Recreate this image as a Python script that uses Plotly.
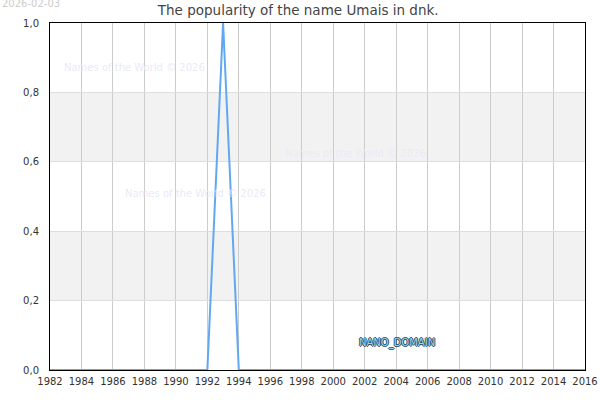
import plotly.graph_objects as go

# popularity of the name per year (only 1993 has a value)
years = list(range(1982, 2017))
popularity = [0.0] * len(years)
popularity[years.index(1993)] = 1.0

x_ticks = list(range(1982, 2017, 2))
y_ticks = [0.0, 0.2, 0.4, 0.6, 0.8, 1.0]
bands = [(0.2, 0.4), (0.6, 0.8)]  # shaded stripes

watermark = "Names of the World © 2026"
watermark_spots = [(1987.37, 0.873), (2001.41, 0.6225), (1991.26, 0.509)]

fig = go.Figure()

fig.add_trace(go.Scatter(
    x=years,
    y=popularity,
    mode="lines",
    line=dict(color="#62a8f0", width=2),
    hoverinfo="skip",
))

# grey bands behind the grid
for lo, hi in bands:
    fig.add_shape(type="rect", xref="paper", yref="y", x0=0, x1=1, y0=lo, y1=hi,
                  fillcolor="#f2f2f2", line_width=0, layer="below")

for wx, wy in watermark_spots:
    fig.add_annotation(x=wx, y=wy, text=watermark, showarrow=False,
                       font=dict(size=10, color="#eaeaf8"))

outline = "-1px 0 #24506a, 1px 0 #24506a, 0 -1px #24506a, 0 1px #24506a"
fig.add_annotation(x=2004.05, y=0.078, text="NANO_DOMAIN", showarrow=False,
                   font=dict(size=10, color="#a9d3ea", shadow=outline))

fig.add_annotation(xref="paper", yref="paper", x=-50 / 535, y=366 / 347,
                   xanchor="left", yanchor="middle",
                   text="2026-02-03", showarrow=False,
                   font=dict(size=10, color="#cccccc"))

fig.update_layout(
    title=dict(text="The popularity of the name Umais in dnk.", x=0.497, y=0.975,
               xanchor="center", yanchor="middle",
               font=dict(size=13.5, color="#444444")),
    width=600,
    height=400,
    margin=dict(l=50, r=15, t=23, b=30, autoexpand=False),
    paper_bgcolor="white",
    plot_bgcolor="white",
    showlegend=False,
    separators=",.",
    font=dict(family="DejaVu Sans", size=10, color="#333333"),
    xaxis=dict(
        range=[1982, 2016],
        tickvals=x_ticks,
        showgrid=True,
        gridcolor="#cccccc",
        showline=True,
        linecolor="black",
        linewidth=1,
        mirror=True,
        zeroline=False,
        ticks="",
        automargin=False,
        ticklabelstandoff=2,
    ),
    yaxis=dict(
        range=[0, 1],
        tickvals=y_ticks,
        tickformat=".1f",
        showgrid=True,
        gridcolor="#dddddd",
        showline=True,
        linecolor="black",
        linewidth=1,
        mirror=True,
        zeroline=False,
        ticks="",
        automargin=False,
        ticklabelstandoff=8,
    ),
)

# drop the page's default body margin so the 600x400 figure fills the window
fig.write_html("out.html", config={"displayModeBar": False},
               post_script="document.body.style.margin = '0';")
